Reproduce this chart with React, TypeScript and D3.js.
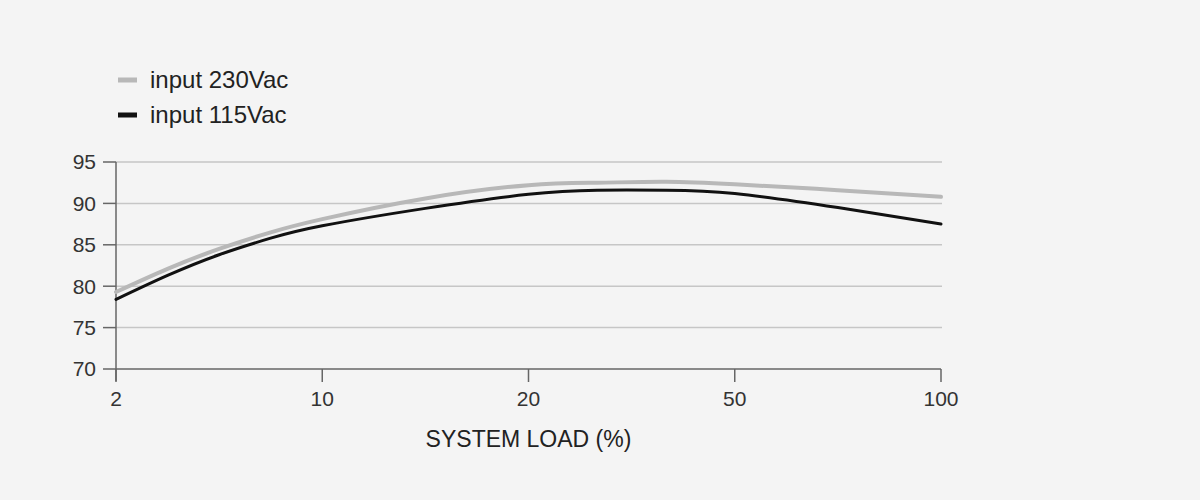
import React from 'react'
import * as d3 from 'd3'

// x positions are evenly spaced per tick, not log
const loadTicks = [2, 10, 20, 50, 100]
const effTicks = [70, 75, 80, 85, 90, 95]

const loadPoints = [2, 4, 6, 8, 10, 15, 20, 30, 40, 50, 75, 100]
const eff230 = [79.3, 82.1, 84.5, 86.5, 88.1, 90.6, 92.2, 92.5, 92.6, 92.3, 91.6, 90.8]
const eff115 = [78.4, 81.3, 83.8, 85.8, 87.3, 89.4, 91.1, 91.6, 91.6, 91.2, 89.5, 87.5]

const seriesNames = ['input 230Vac', 'input 115Vac']
const seriesColors = ['#b8b8b8', '#111111']
const seriesWidths = [4, 3]

export default function App() {
    const width = 1200
    const height = 500
    const margin = { top: 162, right: 259, bottom: 131, left: 116 }
    const innerWidth = width - margin.left - margin.right
    const innerHeight = height - margin.top - margin.bottom

    const step = innerWidth / (loadTicks.length - 1)
    const x = d3.scaleLinear()
        .domain(loadTicks)
        .range(loadTicks.map((_, i) => i * step))

    const y = d3.scaleLinear()
        .domain([70, 95])
        .range([innerHeight, 0])

    const line = d3.line<number>()
        .x((_, i) => x(loadPoints[i]))
        .y(d => y(d))
        .curve(d3.curveNatural)

    const series = [eff230, eff115]
    const font = '"Liberation Sans", Arial, sans-serif'

    return (
        <div style={{ position: 'absolute', left: 0, top: 0 }}>
            <svg width={width} height={height} style={{ display: 'block', background: '#f4f4f4' }} fontFamily={font}>
                {/* legend */}
                {seriesNames.map((name, i) => (
                    <g key={name} transform={`translate(118,${80 + i * 35})`}>
                        <line x1={0} x2={19} y1={0} y2={0} stroke={seriesColors[i]} strokeWidth={5} />
                        <text x={32} y={8} fontSize={24} fill="#222">{name}</text>
                    </g>
                ))}

                <g transform={`translate(${margin.left},${margin.top})`}>
                    {/* grid */}
                    {effTicks.slice(1).map(t => (
                        <line key={t} x1={0} x2={innerWidth + 1} y1={y(t)} y2={y(t)} stroke="#c6c6c6" strokeWidth={1.5} />
                    ))}

                    {/* y axis */}
                    <line x1={0} x2={0} y1={0} y2={innerHeight + 12} stroke="#666" strokeWidth={1.5} />
                    {effTicks.map(t => (
                        <g key={t} transform={`translate(0,${y(t)})`}>
                            <line x1={-13} x2={0} stroke="#666" strokeWidth={1.5} />
                            <text x={-20} dy="0.35em" textAnchor="end" fontSize={21} fill="#333">{t}</text>
                        </g>
                    ))}

                    {/* x axis */}
                    <line x1={0} x2={innerWidth} y1={innerHeight} y2={innerHeight} stroke="#666" strokeWidth={1.5} />
                    {loadTicks.map(t => (
                        <g key={t} transform={`translate(${x(t)},${innerHeight})`}>
                            <line y1={0} y2={13} stroke="#666" strokeWidth={1.5} />
                            <text y={37} textAnchor="middle" fontSize={21} fill="#333">{t}</text>
                        </g>
                    ))}
                    <text x={x(20)} y={innerHeight + 78} textAnchor="middle" fontSize={23} fill="#222">SYSTEM LOAD (%)</text>

                    {/* curves */}
                    {series.map((s, i) => (
                        <path key={i} d={line(s) || ''} fill="none" stroke={seriesColors[i]} strokeWidth={seriesWidths[i]} strokeLinecap="round" />
                    ))}
                </g>
            </svg>
        </div>
    )
}
